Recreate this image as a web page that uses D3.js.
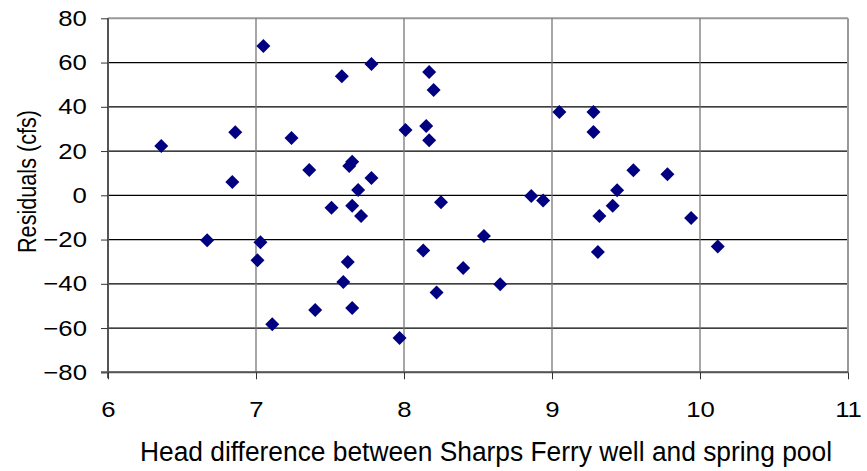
<!DOCTYPE html>
<html><head><meta charset="utf-8">
<script src="https://cdn.jsdelivr.net/npm/d3@7"></script>
<style>body{margin:0;background:#fff}svg{display:block}text{font-family:"Liberation Sans",Arial,sans-serif;fill:#000}</style>
</head><body><svg id="c" width="867" height="471"></svg>
<script>
const headDiff = [6.36,6.67,6.84,6.86,7.01,7.03,7.05,7.11,7.24,7.36,7.40,7.51,7.58,7.59,7.62,7.63,7.65,7.65,7.65,7.69,7.71,7.78,7.78,7.97,8.01,8.13,8.15,8.17,8.17,8.20,8.22,8.25,8.40,8.54,8.65,8.86,8.94,9.05,9.28,9.28,9.31,9.32,9.41,9.44,9.55,9.78,9.94,10.12];
const residuals = [22.3,-20.3,6.0,28.5,-29.4,-21.2,67.5,-58.3,25.9,11.4,-51.8,-5.6,53.8,-39.2,-30.1,13.2,15.2,-4.7,-50.9,2.4,-9.4,59.3,7.8,-64.5,29.5,-24.9,31.3,55.7,24.9,47.6,-43.9,-3.1,-32.9,-18.4,-40.2,-0.3,-2.3,37.6,37.6,28.6,-25.6,-9.4,-4.7,2.3,11.3,9.5,-10.3,-23.1];
const xTicks = [6,7,8,9,10,11];
const yTicks = [-80,-60,-40,-20,0,20,40,60,80];
const xTitle = "Head difference between Sharps Ferry well and spring pool";
const yTitle = "Residuals (cfs)";

const svg = d3.select("#c");
const L=108, R=848, T=18.3, B=372.3;
const SX = 1.17;
const x = d3.scaleLinear().domain([6,11]).range([L,R]);
const y = d3.scaleLinear().domain([-80,80]).range([B,T]);

// horizontal gridlines
svg.append("g").selectAll("line").data(yTicks).join("line")
  .attr("x1",L).attr("x2",R).attr("y1",d=>y(d)).attr("y2",d=>y(d))
  .attr("stroke",d=>(d===80)?"#999":"#000").attr("stroke-width",d=>d===80?2:1.2);
// vertical gridlines
svg.append("g").selectAll("line").data(xTicks).join("line")
  .attr("x1",d=>x(d)).attr("x2",d=>x(d)).attr("y1",T).attr("y2",B)
  .attr("stroke",d=>d===11?"#999":"#777").attr("stroke-width",d=>d===11?2:1.3);

// axes
const yAxis = d3.axisLeft(y).tickValues(yTicks).tickSize(7).tickPadding(11).tickFormat(d3.format("d"));
const gy = svg.append("g").attr("transform",`translate(${L},0)`).call(yAxis);
gy.select(".domain").attr("stroke","#555").attr("stroke-width",2).attr("d",`M0,${B+6}V${T}`);
gy.selectAll(".tick line").attr("stroke","#333");
gy.selectAll(".tick text").attr("font-size",22).attr("font-family","Liberation Sans, Arial, sans-serif").attr("fill","#000")
  .attr("transform",`scale(${SX},1)`);

const xAxis = d3.axisBottom(x).tickValues(xTicks).tickSize(7).tickPadding(22).tickFormat(d3.format("d"));
const gx = svg.append("g").attr("transform",`translate(0,${B})`).call(xAxis);
gx.select(".domain").attr("stroke","#555").attr("stroke-width",2).attr("d",`M${L-7},0H${R}`);
gx.selectAll(".tick line").attr("stroke","#333");
gx.selectAll(".tick text").attr("font-size",22).attr("font-family","Liberation Sans, Arial, sans-serif").attr("fill","#000")
  .attr("transform",`scale(${SX},1)`);

// markers
const pts = headDiff.map((v,i)=>({x:v,y:residuals[i]}));
svg.append("g").selectAll("path").data(pts).join("path")
  .attr("transform",d=>`translate(${x(d.x)},${y(d.y)})`)
  .attr("d","M0,-7L7,0L0,7L-7,0Z").attr("fill","#000080");

// titles
svg.append("text").attr("x",486).attr("y",461).attr("text-anchor","middle")
  .attr("font-size",27).attr("textLength",692).attr("lengthAdjust","spacingAndGlyphs").text(xTitle);
svg.append("text").attr("transform",`translate(36,181.5) scale(${SX},1) rotate(-90)`).attr("text-anchor","middle")
  .attr("font-size",22.5).attr("textLength",143).attr("lengthAdjust","spacingAndGlyphs").text(yTitle);
</script></body></html>
